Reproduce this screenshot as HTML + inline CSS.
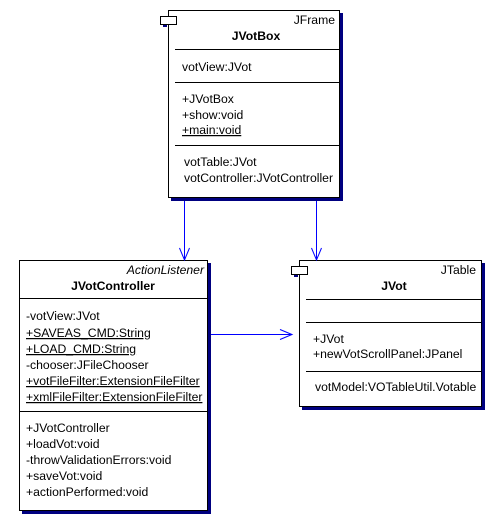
<!DOCTYPE html>
<html><head><style>
body{margin:0;background:#fff;}
svg text{font-family:"Liberation Sans",sans-serif;font-size:12.2px;fill:#000;}
</style></head><body>
<svg width="495" height="515" viewBox="0 0 495 515" xmlns="http://www.w3.org/2000/svg">
<g fill="#000080">
<rect x="171" y="13" width="172" height="188"/>
<rect x="22" y="263" width="189" height="251"/>
<rect x="302" y="263" width="183" height="147"/>
</g>
<g fill="#fff" stroke="#000" stroke-width="1">
<rect x="168.5" y="10.5" width="171" height="187"/>
<rect x="19.5" y="260.5" width="188" height="250"/>
<rect x="299.5" y="260.5" width="182" height="146"/>
</g>
<g fill="#000080"><rect x="163" y="24" width="4" height="3"/><rect x="294" y="274" width="4" height="3"/></g>
<g fill="#fff" stroke="#000"><rect x="160.5" y="16.5" width="16" height="8"/><rect x="291.5" y="266.5" width="16" height="8"/></g>
<g stroke="#000" stroke-width="1">
<line x1="175" y1="49.5" x2="340" y2="49.5"/><line x1="175" y1="82.5" x2="340" y2="82.5"/><line x1="175" y1="145.5" x2="340" y2="145.5"/>
<line x1="19" y1="298.5" x2="208" y2="298.5"/><line x1="19" y1="411.5" x2="208" y2="411.5"/>
<line x1="306" y1="299.5" x2="482" y2="299.5"/><line x1="306" y1="322.5" x2="482" y2="322.5"/><line x1="306" y1="371.5" x2="482" y2="371.5"/>
</g>
<g stroke="#0000ff" stroke-width="1" fill="none">
<line x1="184.5" y1="201" x2="184.5" y2="260"/><polyline points="179.5,248 184.5,260 189.5,248"/>
<line x1="316.5" y1="201" x2="316.5" y2="260"/><polyline points="311.5,248 316.5,260 321.5,248"/>
<line x1="211" y1="334.5" x2="292" y2="334.5"/><polyline points="280,329.5 292,334.5 280,339.5"/>
</g>
<text x="335" y="24" text-anchor="end">JFrame</text>
<text x="256" y="40" text-anchor="middle" font-weight="bold">JVotBox</text>
<text x="182" y="71">votView:JVot</text>
<text x="182" y="103">+JVotBox</text>
<text x="182" y="119">+show:void</text>
<text x="182" y="134" text-decoration="underline">+main:void</text>
<text x="184" y="166">votTable:JVot</text>
<text x="184" y="182">votController:JVotController</text>
<text x="204" y="274" text-anchor="end" font-style="italic">ActionListener</text>
<text x="113" y="290" text-anchor="middle" font-weight="bold">JVotController</text>
<text x="26" y="320">-votView:JVot</text>
<text x="26" y="337" text-decoration="underline">+SAVEAS_CMD:String</text>
<text x="26" y="353" text-decoration="underline">+LOAD_CMD:String</text>
<text x="26" y="369">-chooser:JFileChooser</text>
<text x="26" y="385" text-decoration="underline">+votFileFilter:ExtensionFileFilter</text>
<text x="26" y="401" text-decoration="underline">+xmlFileFilter:ExtensionFileFilter</text>
<text x="26" y="432">+JVotController</text>
<text x="26" y="448">+loadVot:void</text>
<text x="26" y="464">-throwValidationErrors:void</text>
<text x="26" y="480">+saveVot:void</text>
<text x="26" y="496">+actionPerformed:void</text>
<text x="476" y="274" text-anchor="end">JTable</text>
<text x="394" y="290" text-anchor="middle" font-weight="bold">JVot</text>
<text x="313" y="343">+JVot</text>
<text x="313" y="358">+newVotScrollPanel:JPanel</text>
<text x="315" y="391">votModel:VOTableUtil.Votable</text>
</svg>
</body></html>
